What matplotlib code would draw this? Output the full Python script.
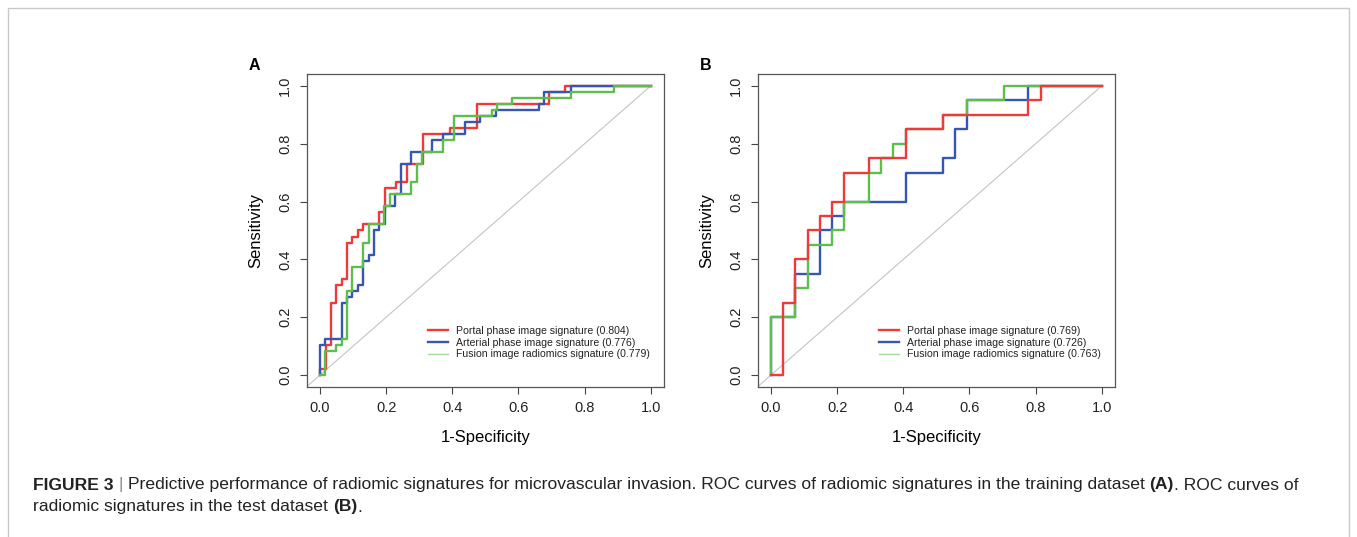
import matplotlib
matplotlib.use("Agg")
import matplotlib.pyplot as plt
from matplotlib.lines import Line2D
from matplotlib.patches import Rectangle

plt.rcParams['font.family'] = ['Liberation Sans', 'DejaVu Sans']

# ------------------------------
# data: ROC corner points (fpr where curve rises, tpr after rise)
# ------------------------------
# panel A - training dataset
a_portal_fpr = [0, 0, 0.017, 0.033, 0.049, 0.066, 0.082, 0.098, 0.115, 0.131, 0.180,
                0.197, 0.230, 0.262, 0.311, 0.393, 0.475, 0.693, 0.741, 1.0]
a_portal_tpr = [0, 0.021, 0.104, 0.25, 0.3125, 0.333, 0.458, 0.479, 0.5, 0.521, 0.5625,
                0.646, 0.667, 0.729, 0.833, 0.854, 0.9375, 0.979, 1.0, 1.0]

a_arterial_fpr = [0, 0, 0.016, 0.066, 0.082, 0.098, 0.115, 0.131, 0.148, 0.164, 0.180,
                  0.197, 0.228, 0.244, 0.276, 0.340, 0.373, 0.437, 0.484, 0.533, 0.663,
                  0.677, 0.758, 1.0]
a_arterial_tpr = [0, 0.104, 0.125, 0.25, 0.271, 0.292, 0.3125, 0.396, 0.417, 0.5, 0.521,
                  0.583, 0.625, 0.729, 0.771, 0.8125, 0.833, 0.875, 0.896, 0.917, 0.9375,
                  0.979, 1.0, 1.0]

a_fusion_fpr = [0, 0.016, 0.048, 0.066, 0.082, 0.098, 0.131, 0.147, 0.195, 0.211, 0.276,
                0.292, 0.309, 0.373, 0.404, 0.520, 0.535, 0.580, 0.758, 0.888, 1.0]
a_fusion_tpr = [0, 0.083, 0.104, 0.125, 0.292, 0.375, 0.458, 0.521, 0.583, 0.625, 0.667,
                0.729, 0.771, 0.8125, 0.896, 0.917, 0.9375, 0.958, 0.979, 1.0, 1.0]

# panel B - test dataset
b_portal_fpr = [0, 0.037, 0.074, 0.111, 0.148, 0.185, 0.222, 0.296, 0.407, 0.519, 0.778, 0.815, 1.0]
b_portal_tpr = [0, 0.25, 0.40, 0.50, 0.55, 0.60, 0.70, 0.75, 0.85, 0.90, 0.95, 1.0, 1.0]

b_arterial_fpr = [0, 0, 0.074, 0.148, 0.185, 0.222, 0.407, 0.519, 0.556, 0.593, 0.778, 1.0]
b_arterial_tpr = [0, 0.20, 0.35, 0.50, 0.55, 0.60, 0.70, 0.75, 0.85, 0.95, 1.0, 1.0]

b_fusion_fpr = [0, 0, 0.074, 0.111, 0.185, 0.222, 0.296, 0.333, 0.370, 0.407, 0.519, 0.593, 0.704, 1.0]
b_fusion_tpr = [0, 0.20, 0.30, 0.45, 0.50, 0.60, 0.70, 0.75, 0.80, 0.85, 0.90, 0.95, 1.0, 1.0]

labels_a = ["Portal phase image signature (0.804)",
            "Arterial phase image signature (0.776)",
            "Fusion image radiomics signature (0.779)"]
labels_b = ["Portal phase image signature (0.769)",
            "Arterial phase image signature (0.726)",
            "Fusion image radiomics signature (0.763)"]

ticks = [0.0, 0.2, 0.4, 0.6, 0.8, 1.0]
tick_labels = ["0.0", "0.2", "0.4", "0.6", "0.8", "1.0"]

RED = '#F03A3A'
BLUE = '#3556B2'
GREEN = '#5DBE4C'

# ------------------------------
# figure
# ------------------------------
W, H = 1357, 537
fig = plt.figure(figsize=(W / 100, H / 100), dpi=100)
fig.patch.set_facecolor('white')
fig.patches.append(Rectangle((8 / W, -0.01), (1349 - 8) / W, 1 - 8 / H + 0.01,
                             transform=fig.transFigure, fill=False,
                             edgecolor='#C9C9C9', lw=1.0))


def draw_panel(left_px, letter, curves, labels, order):
    ax = fig.add_axes([left_px / W, 1 - 386.7 / H, 357.3 / W, 312.4 / H])
    ax.set_xlim(-0.04, 1.04)
    ax.set_ylim(-0.04, 1.04)
    # chance line
    ax.plot([-0.04, 1.0], [-0.04, 1.0], color='#C4C4C4', lw=0.8, zorder=1)
    colors = [RED, BLUE, GREEN]
    for k in order:
        fpr, tpr = curves[k]
        ax.plot(fpr, tpr, drawstyle='steps-post', color=colors[k], lw=1.7, zorder=2 + order.index(k))
    ax.set_xticks(ticks)
    ax.set_xticklabels(tick_labels)
    ax.set_yticks(ticks)
    ax.set_yticklabels(tick_labels, rotation=90, va='center')
    ax.tick_params(direction='out', length=5, width=0.8, color='#444444',
                   labelsize=10.5, labelcolor='#222222', pad=5.5)
    for s in ax.spines.values():
        s.set_color('#555555')
        s.set_linewidth(0.9)
    ax.set_xlabel('1-Specificity', fontsize=12, va='center')
    ax.xaxis.set_label_coords(0.5, -0.164)
    ax.set_ylabel('Sensitivity', fontsize=12, va='center')
    ax.yaxis.set_label_coords(-0.143, 0.5)

    handles = [Line2D([], [], color=RED, lw=1.7),
               Line2D([], [], color=BLUE, lw=1.7),
               Line2D([], [], color='#A6D99C', lw=1.0)]
    leg = ax.legend(handles, labels, loc='upper left', bbox_to_anchor=(0.339, 0.194),
                    frameon=False, fontsize=7.6, handlelength=1.9, handletextpad=0.8,
                    labelspacing=0.15, borderaxespad=0, borderpad=0)
    for t in leg.get_texts():
        t.set_color('#222222')

    fig.text((left_px - 52) / W, 1 - 65 / H, letter, fontsize=11.5, fontweight='bold',
             ha='center', va='center')
    return ax


draw_panel(306.7, 'A',
           [(a_portal_fpr, a_portal_tpr), (a_arterial_fpr, a_arterial_tpr), (a_fusion_fpr, a_fusion_tpr)],
           labels_a, order=[0, 1, 2])
draw_panel(757.7, 'B',
           [(b_portal_fpr, b_portal_tpr), (b_arterial_fpr, b_arterial_tpr), (b_fusion_fpr, b_fusion_tpr)],
           labels_b, order=[1, 2, 0])

# ------------------------------
# caption (mixed bold / regular runs)
# ------------------------------
CAP_FONT = ['Liberation Sans', 'DejaVu Sans']
CAP_SIZE = 12.6
renderer = fig.canvas.get_renderer()


def rich_line(x_px, y_px, parts):
    x = x_px
    for txt, bold, color in parts:
        t = fig.text(x / W, 1 - y_px / H, txt, family=CAP_FONT, fontsize=CAP_SIZE,
                     fontweight='bold' if bold else 'normal', color=color,
                     ha='left', va='center')
        bb = t.get_window_extent(renderer=renderer)
        x += bb.width


line1 = [("FIGURE 3", True, '#222222'), (" | ", False, '#888888'),
         ("Predictive performance of radiomic signatures for microvascular invasion. "
          "ROC curves of radiomic signatures in the training dataset ", False, '#222222'),
         ("(A)", True, '#222222'), (". ROC curves of", False, '#222222')]
line2 = [("radiomic signatures in the test dataset ", False, '#222222'),
         ("(B)", True, '#222222'), (".", False, '#222222')]
rich_line(33, 485, line1)
rich_line(33, 507, line2)

fig.savefig('out.png', dpi=100)
